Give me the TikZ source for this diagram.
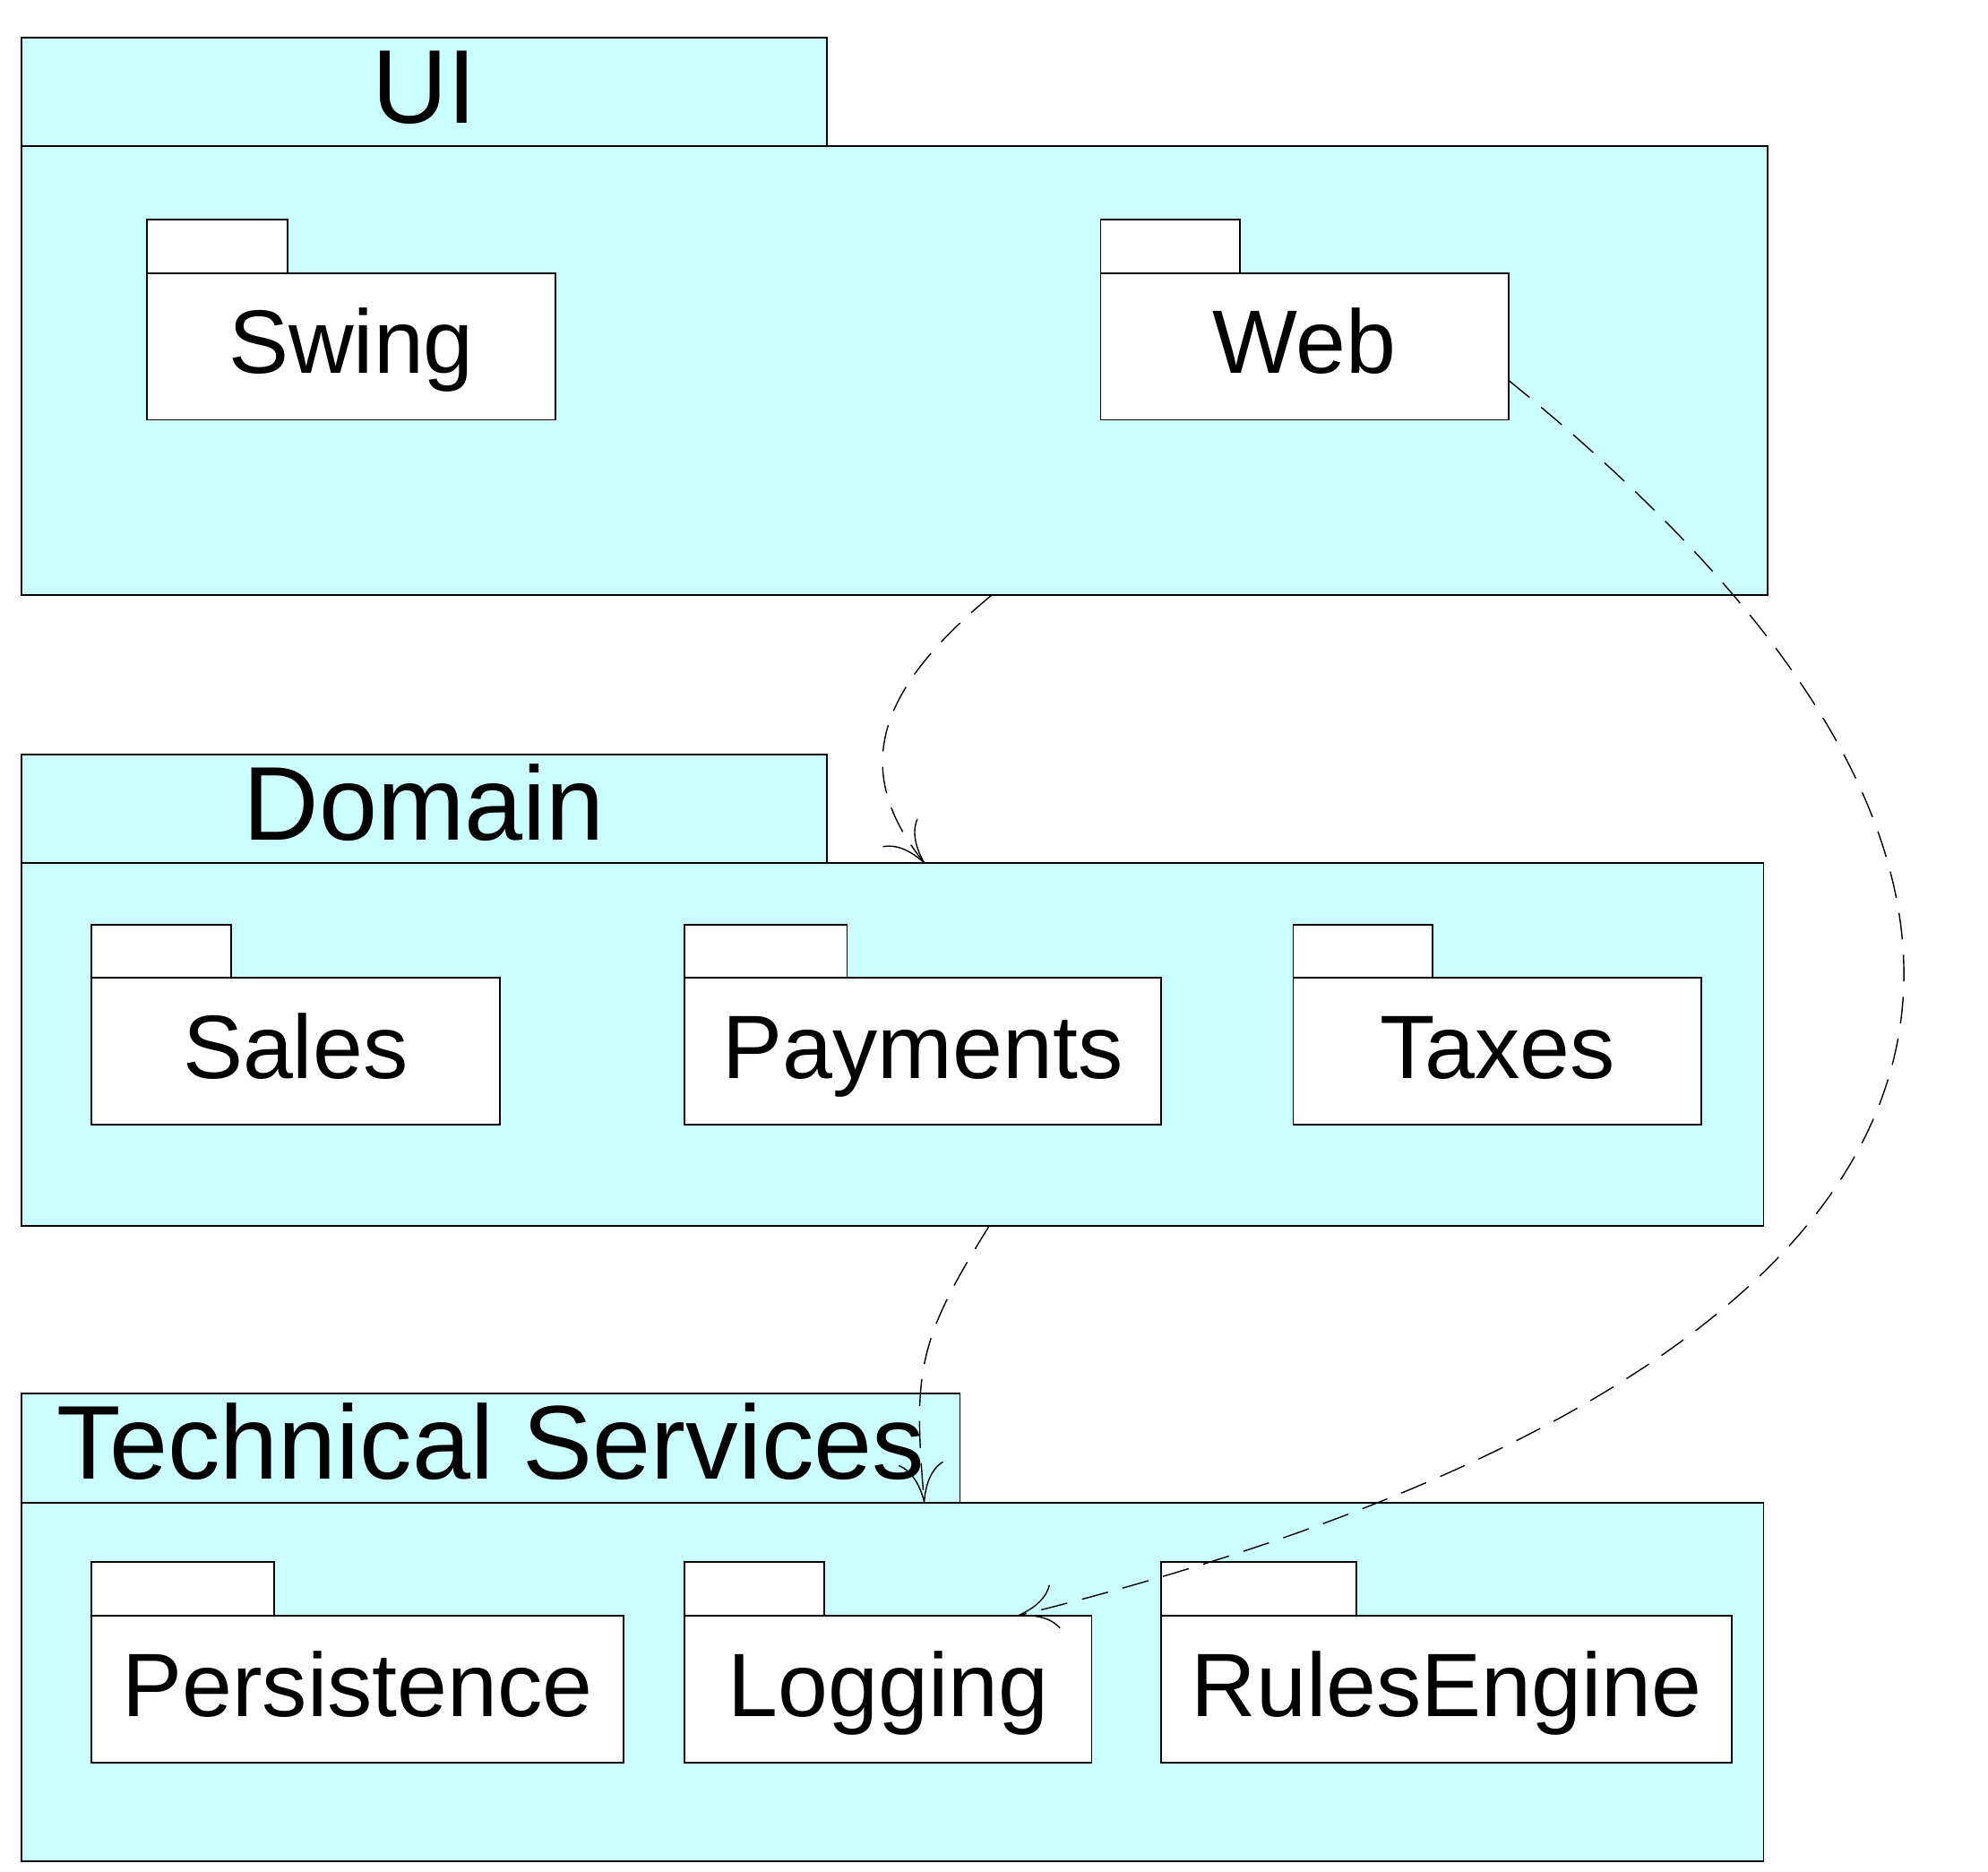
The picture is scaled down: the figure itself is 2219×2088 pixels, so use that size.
\documentclass[tikz,border=0pt]{standalone}
\usepackage{fontspec}
\setmainfont{Liberation Sans}
\usetikzlibrary{arrows.meta}
\definecolor{layercyan}{HTML}{CCFFFF}

\begin{document}
\begin{tikzpicture}[x=1pt,y=-1pt,
      layer/.style={draw,fill=layercyan,line width=1.8pt,anchor=north west,inner sep=0pt,outer sep=0pt},
      layertab/.style={layer,minimum height=121.5pt,font=\fontsize{117}{140}\selectfont,text height=93.6pt,text depth=23.4pt},
      pkgtab/.style={draw,fill=white,line width=1.8pt,anchor=north west,inner sep=0pt,outer sep=0pt,minimum height=60pt},
      pkg/.style={pkgtab,minimum height=163.5pt,font=\fontsize{100.5}{120}\selectfont,text height=80.4pt,text depth=20.1pt},
      depends/.style={dash pattern=on 30pt off 17pt,line width=1.4pt,-{To[length=44pt,width=50pt]}}]
      \useasboundingbox (0,0) rectangle (2219,2088);
      \node[layertab,minimum width=898.4pt] (uitab) at (24.3,41.7) {UI};
      \node[layer,minimum width=1948.4pt,minimum height=500.7pt] (ui) at (24.3,163.3) {};
      \node[pkgtab,minimum width=156.7pt] (swingtab) at (164,245) {};
      \node[pkg,minimum width=456pt] (swing) at (164,305) {Swing};
      \node[pkgtab,minimum width=155.7pt] (webtab) at (1228.4,245) {};
      \node[pkg,minimum width=455.6pt] (web) at (1228.4,305) {Web};

      \node[layertab,minimum width=898.4pt] (domaintab) at (24.3,842) {Domain};
      \node[layer,minimum width=1944.2pt,minimum height=405pt] (domain) at (24.3,963.3) {};
      \node[pkgtab,minimum width=155.7pt] (salestab) at (101.9,1031.7) {};
      \node[pkg,minimum width=455.7pt] (sales) at (101.9,1091.1) {Sales};
      \node[pkgtab,minimum width=181.2pt] (paymentstab) at (764.2,1031.7) {};
      \node[pkg,minimum width=532.1pt] (payments) at (764.2,1091.1) {Payments};
      \node[pkgtab,minimum width=155.7pt] (taxestab) at (1443.5,1031.7) {};
      \node[pkg,minimum width=455.7pt] (taxes) at (1443.5,1091.1) {Taxes};

      \node[layertab,minimum width=1047.2pt] (techtab) at (24.3,1555) {Technical Services};
      \node[layer,minimum width=1944.2pt,minimum height=400pt] (tech) at (24.3,1676.7) {};
      \node[pkgtab,minimum width=204.3pt] (persistencetab) at (101.7,1743) {};
      \node[pkg,minimum width=594.6pt] (persistence) at (101.7,1803.3) {Persistence};
      \node[pkgtab,minimum width=155.7pt] (loggingtab) at (764.2,1743) {};
      \node[pkg,minimum width=454.3pt] (logging) at (764.2,1803.3) {Logging};
      \node[pkgtab,minimum width=218.3pt] (rulesenginetab) at (1296,1743) {};
      \node[pkg,minimum width=637.3pt] (rulesengine) at (1296,1803.3) {RulesEngine};

      \draw[depends] ([xshift=108.5pt]ui.south) .. controls (985,765) and (945,855) .. ([xshift=35.6pt]domain.north);
      \draw[depends] ([xshift=107.6pt]domain.south) .. controls (1025.2,1494.5) and (1018.7,1528.8) .. ([xshift=35.3pt]tech.north);
      \draw[depends] ([yshift=-37.8pt]web.east) .. controls (2483.7,1072.6) and (2133.4,1556) .. ([xshift=143.6pt]logging.north);
\end{tikzpicture}
\end{document}
